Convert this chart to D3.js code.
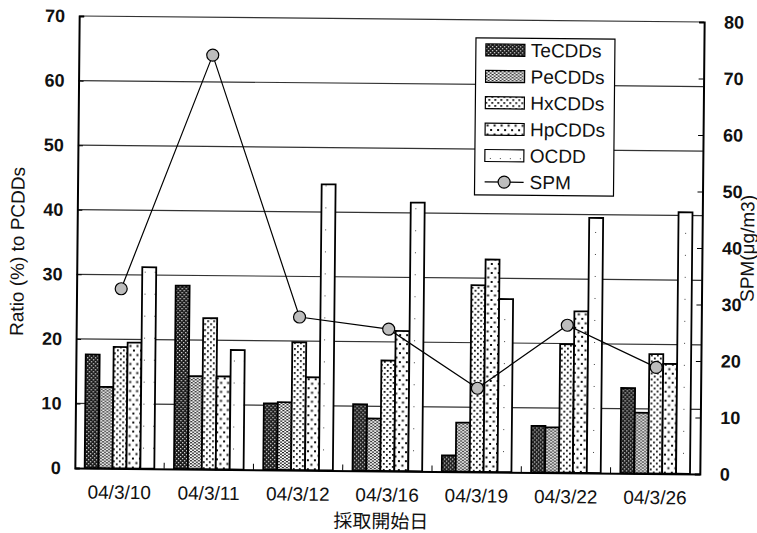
<!DOCTYPE html>
<html>
<head>
<meta charset="utf-8">
<script src="https://cdn.jsdelivr.net/npm/d3@7"></script>
<style>
body { margin: 0; background: #fff; }
text { font-family: "Liberation Sans", Arial, sans-serif; fill: #111; }
</style>
</head>
<body>
<script>
// data
let dates = ["04/3/10", "04/3/11", "04/3/12", "04/3/16", "04/3/19", "04/3/22", "04/3/26"]
let series = ["TeCDDs", "PeCDDs", "HxCDDs", "HpCDDs", "OCDD"]
let teValues = [17.6, 28.4, 10.3, 10.3, 2.5, 7.2, 13.2]
let peValues = [12.6, 14.4, 10.5, 8.1, 7.6, 7.0, 9.4]
let hxValues = [18.8, 23.4, 19.8, 17.1, 28.9, 19.9, 18.5]
let hpValues = [19.5, 14.4, 14.4, 21.7, 32.9, 25.0, 17.0]
let ocddValues = [31.2, 18.5, 44.3, 41.6, 26.8, 39.5, 40.5]
let spmValues = [31.8, 73.3, 27.1, 25.1, 14.8, 26.1, 18.8]
let leftTicks = [0, 10, 20, 30, 40, 50, 60, 70]
let rightTicks = [0, 10, 20, 30, 40, 50, 60, 70, 80]

let w = 757
let h = 533
let pLeft = 77
let pRight = 702
let pTop = 19
let pBottom = 471

let svg = d3.select("body").append("svg")
  .attr("width", w)
  .attr("height", h)

let defs = svg.append("defs")

let pat = (id, size, bg, dots, dotColor) => {
  let p = defs.append("pattern")
    .attr("id", id)
    .attr("patternUnits", "userSpaceOnUse")
    .attr("width", size[0])
    .attr("height", size[1])
  p.append("rect").attr("width", size[0]).attr("height", size[1]).attr("fill", bg)
  dots.forEach(d => {
    p.append("rect").attr("x", d[0]).attr("y", d[1]).attr("width", d[2]).attr("height", d[3]).attr("fill", dotColor)
  })
}
pat("pTe", [4, 4], "#1a1a1a", [[0, 0, 1.3, 1.3], [2, 2, 1.3, 1.3]], "#d8d8d8")
pat("pPe", [4, 3], "#fff", [[0, 0, 2, 1.3], [2, 1.5, 2, 1.3]], "#222")
pat("pHx", [6, 6], "#fff", [[1, 1, 1.8, 1.8], [4, 4, 1.8, 1.8]], "#111")
pat("pHp", [7, 9], "#fff", [[1, 1, 2, 2], [4.5, 5.5, 2, 2]], "#111")
pat("pO", [10, 22], "#fff", [[5, 10, 1, 1]], "#444")
let fills = ["url(#pTe)", "url(#pPe)", "url(#pHx)", "url(#pHp)", "url(#pO)"]

// the scan is a little tilted
let root = svg.append("g")
  .attr("transform", "rotate(0.55," + ((pLeft + pRight) / 2) + "," + ((pTop + pBottom) / 2) + ")")

let xScale = d3.scaleBand().domain(dates).range([pLeft, pRight]).paddingInner(0.22).paddingOuter(0.11)
let xInner = d3.scaleBand().domain(series).range([0, xScale.bandwidth()])
let yScale = d3.scaleLinear().domain([0, 70]).range([pBottom, pTop])
let y2Scale = d3.scaleLinear().domain([0, 80]).range([pBottom, pTop])

// gridlines
root.append("g")
  .selectAll("line")
  .data(leftTicks.slice(1))
  .enter()
  .append("line")
  .attr("x1", pLeft)
  .attr("x2", pRight)
  .attr("y1", d => yScale(d))
  .attr("y2", d => yScale(d))
  .attr("stroke", "#333")
  .attr("stroke-width", 1.2)

// bars
let allValues = [teValues, peValues, hxValues, hpValues, ocddValues]
series.forEach((s, si) => {
  root.append("g")
    .selectAll("rect")
    .data(allValues[si])
    .enter()
    .append("rect")
    .attr("x", (d, i) => xScale(dates[i]) + xInner(s))
    .attr("y", d => yScale(d))
    .attr("width", xInner.bandwidth())
    .attr("height", d => pBottom - yScale(d))
    .attr("fill", fills[si])
    .attr("stroke", "#000")
    .attr("stroke-width", 1.8)
})

// axes
let leftAxis = d3.axisLeft(yScale).tickValues(leftTicks).tickSize(-5).tickPadding(14)
let gl = root.append("g").attr("transform", "translate(" + pLeft + ",0)").call(leftAxis)
let rightAxis = d3.axisRight(y2Scale).tickValues(rightTicks).tickSize(-5).tickPadding(20)
let gr = root.append("g").attr("transform", "translate(" + pRight + ",0)").call(rightAxis)
;[gl, gr].forEach(g => {
  g.select(".domain").attr("stroke", "#000").attr("stroke-width", 2)
  g.selectAll(".tick line").attr("stroke", "#000")
  g.selectAll(".tick text").attr("font-size", 18).attr("font-weight", "bold")
    .attr("font-family", "Liberation Sans, Arial, sans-serif").attr("fill", "#111")
})

let xAxis = d3.axisBottom(xScale).tickSize(0).tickPadding(17)
let gx = root.append("g").attr("transform", "translate(0," + pBottom + ")").call(xAxis)
gx.select(".domain").attr("stroke", "#000").attr("stroke-width", 2)
gx.selectAll(".tick text").attr("font-size", 19)
  .attr("font-family", "Liberation Sans, Arial, sans-serif").attr("fill", "#111")

// small marks between date groups
root.append("g")
  .selectAll("line")
  .data(dates.slice(1))
  .enter()
  .append("line")
  .attr("x1", d => xScale(d) - (xScale.step() - xScale.bandwidth()) / 2)
  .attr("x2", d => xScale(d) - (xScale.step() - xScale.bandwidth()) / 2)
  .attr("y1", pBottom)
  .attr("y2", pBottom - 6)
  .attr("stroke", "#000")

// SPM line
let line = d3.line()
  .x((d, i) => xScale(dates[i]) + xScale.bandwidth() / 2)
  .y(d => y2Scale(d))
root.append("path")
  .datum(spmValues)
  .attr("d", line)
  .attr("fill", "none")
  .attr("stroke", "#000")
  .attr("stroke-width", 1.2)
root.append("g")
  .selectAll("circle")
  .data(spmValues)
  .enter()
  .append("circle")
  .attr("cx", (d, i) => xScale(dates[i]) + xScale.bandwidth() / 2)
  .attr("cy", d => y2Scale(d))
  .attr("r", 6)
  .attr("fill", "#bdbdbd")
  .attr("stroke", "#000")
  .attr("stroke-width", 1.2)

// axis titles
root.append("text")
  .text("Ratio (%) to PCDDs")
  .attr("transform", "translate(24," + ((pTop + pBottom) / 2 + 10) + ") rotate(-90)")
  .attr("text-anchor", "middle")
  .attr("font-size", 19)
root.append("text")
  .text("SPM(μg/m3)")
  .attr("transform", "translate(754," + ((pTop + pBottom) / 2) + ") rotate(-90)")
  .attr("text-anchor", "middle")
  .attr("font-size", 19)
root.append("text")
  .text("採取開始日")
  .attr("x", (pLeft + pRight) / 2 - 6)
  .attr("y", 528)
  .attr("text-anchor", "middle")
  .attr("font-size", 19)
  .style("font-family", "'Noto Sans CJK JP', sans-serif")

// legend
let legend = root.append("g").attr("transform", "translate(474,37)")
legend.append("rect")
  .attr("width", 139)
  .attr("height", 157)
  .attr("fill", "#fff")
  .attr("stroke", "#000")
  .attr("stroke-width", 1.2)
series.forEach((s, i) => {
  legend.append("rect")
    .attr("x", 10)
    .attr("y", 6 + i * 26.4)
    .attr("width", 39)
    .attr("height", 12)
    .attr("fill", fills[i])
    .attr("stroke", "#000")
    .attr("stroke-width", 1.2)
  legend.append("text")
    .text(s)
    .attr("x", 55)
    .attr("y", 12 + i * 26.4)
    .attr("dy", "0.35em")
    .attr("font-size", 19)
})
legend.append("line")
  .attr("x1", 10).attr("x2", 49)
  .attr("y1", 12 + 5 * 26.4).attr("y2", 12 + 5 * 26.4)
  .attr("stroke", "#000").attr("stroke-width", 1.2)
legend.append("circle")
  .attr("cx", 29.5).attr("cy", 12 + 5 * 26.4).attr("r", 6)
  .attr("fill", "#bdbdbd").attr("stroke", "#000").attr("stroke-width", 1.2)
legend.append("text")
  .text("SPM")
  .attr("x", 55)
  .attr("y", 12 + 5 * 26.4)
  .attr("dy", "0.35em")
  .attr("font-size", 19)
</script>
</body>
</html>
